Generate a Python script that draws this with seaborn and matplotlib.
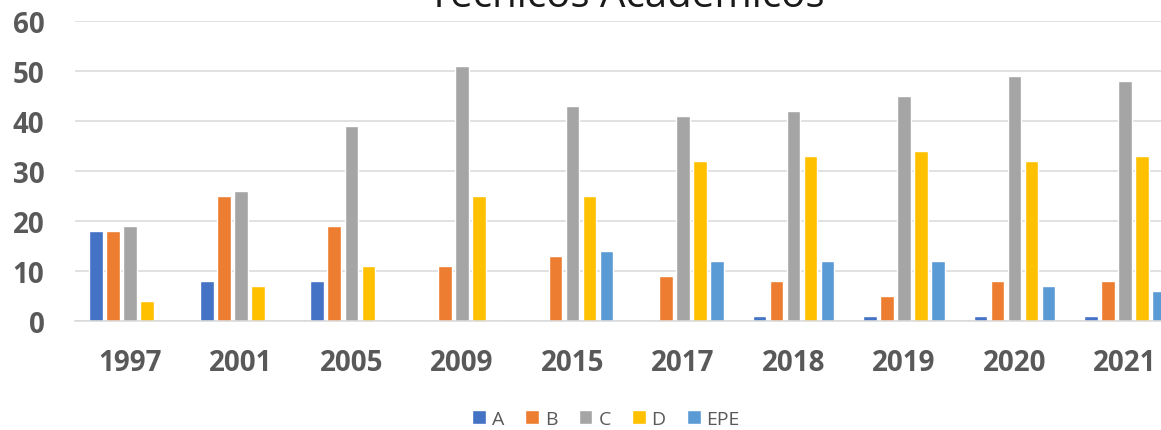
import pandas as pd
import seaborn as sns
import matplotlib.pyplot as plt
from matplotlib.patches import Patch

# Datos
anios = ['1997', '2001', '2005', '2009', '2015', '2017', '2018', '2019', '2020', '2021']
A = [18, 8, 8, 0, 0, 0, 1, 1, 1, 1]
B = [18, 25, 19, 11, 13, 9, 8, 5, 8, 8]
C = [19, 26, 39, 51, 43, 41, 42, 45, 49, 48]
D = [4, 7, 11, 25, 25, 32, 33, 34, 32, 33]
EPE = [0, 0, 0, 0, 14, 12, 12, 12, 7, 6]

series = ['A', 'B', 'C', 'D', 'EPE']
colores = ['#4472C4', '#ED7D31', '#A5A5A5', '#FFC000', '#5B9BD5']

df = pd.DataFrame({'Año': anios, 'A': A, 'B': B, 'C': C, 'D': D, 'EPE': EPE})
df_long = df.melt(id_vars='Año', var_name='Categoria', value_name='Valor')

sns.set_style('white')
plt.rcParams['font.family'] = ['Open Sans', 'DejaVu Sans']

fig = plt.figure(figsize=(11.61, 4.31), dpi=100)
ax = fig.add_axes([0.0646, 0.2536, 0.952, 0.6965])

sns.barplot(data=df_long, x='Año', y='Valor', hue='Categoria', order=anios,
            hue_order=series, palette=colores, width=0.77, gap=0.2,
            errorbar=None, ax=ax, saturation=1)

ax.set_ylim(0, 60)
ax.set_yticks(range(0, 61, 10))
ax.set_xlim(-0.5, len(anios) - 0.5)
ax.set_xlabel('')
ax.set_ylabel('')
ax.grid(axis='y', color='#D9D9D9', linewidth=1.1)
ax.set_axisbelow(True)
for s in ['top', 'right', 'left']:
    ax.spines[s].set_visible(False)
ax.spines['bottom'].set_color('#D9D9D9')
ax.spines['bottom'].set_linewidth(1.1)

ax.tick_params(axis='both', length=0, labelsize=20, labelcolor='#595959')
ax.tick_params(axis='x', pad=20)
ax.tick_params(axis='y', pad=22)
for lbl in ax.get_xticklabels() + ax.get_yticklabels():
    lbl.set_fontweight('bold')

ax.get_legend().remove()
handles = [Patch(facecolor=c, label=s) for s, c in zip(series, colores)]
fig.legend(handles=handles, loc='center', bbox_to_anchor=(0.522, 0.0255),
           ncol=5, frameon=False, fontsize=14, labelcolor='#595959',
           handlelength=0.7, handleheight=0.7, handletextpad=0.3,
           columnspacing=1.1)

fig.text(626 / 1161, 1 - 7 / 431, 'Técnicos Académicos', ha='center',
         va='baseline', fontsize=29, color='#1a1a1a')

plt.savefig('out.png', dpi=100)
